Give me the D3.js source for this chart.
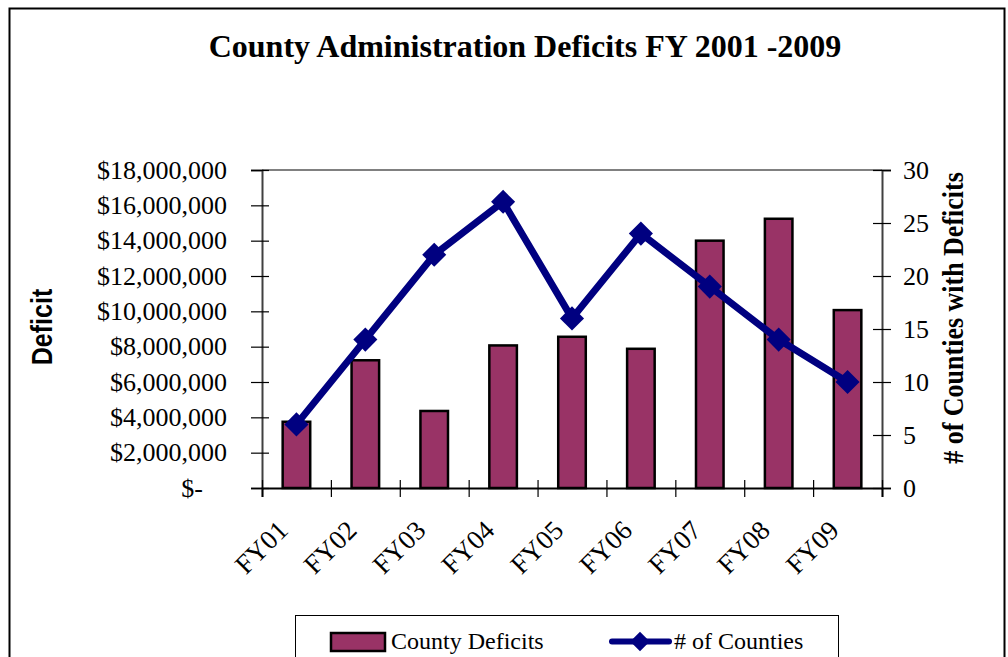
<!DOCTYPE html>
<html>
<head>
<meta charset="utf-8">
<script src="https://cdn.jsdelivr.net/npm/d3@7"></script>
<style>
  html, body { margin: 0; padding: 0; background: #fff; }
  svg { display: block; }
  text { font-family: "Liberation Serif", "Times New Roman", serif; fill: #000; }
</style>
</head>
<body>
<svg id="chart" width="1008" height="657"></svg>
<script>
// Fiscal years and values
const categories = ["FY01", "FY02", "FY03", "FY04", "FY05", "FY06", "FY07", "FY08", "FY09"];
const deficits = [3750000, 7230000, 4360000, 8070000, 8560000, 7880000, 14000000, 15240000, 10070000];
const counties = [6, 14, 22, 27, 16, 24, 19, 14, 10];
const deficitTicks = [0, 2000000, 4000000, 6000000, 8000000, 10000000, 12000000, 14000000, 16000000, 18000000];
const countyTicks = [0, 5, 10, 15, 20, 25, 30];

const title = "County Administration Deficits FY 2001 -2009";
const leftTitle = "Deficit";
const rightTitle = "# of Counties with Deficits";
const legendLabels = ["County Deficits", "# of Counties"];

const barColor = "#993366";
const lineColor = "#000080";

const svg = d3.select("#chart");
const plot = { left: 262, right: 882, top: 170, bottom: 488 };

// outer frame
svg.append("rect")
  .attr("x", 9.5).attr("y", 8.5).attr("width", 995).attr("height", 720)
  .attr("fill", "#fff").attr("stroke", "#000").attr("stroke-width", 2);

// title
svg.append("text")
  .attr("x", 525).attr("y", 57)
  .attr("text-anchor", "middle")
  .style("font-size", "32px").style("font-weight", "bold")
  .text(title);

// scales
const x = d3.scaleBand().domain(categories).range([plot.left, plot.right])
  .paddingInner(0.6).paddingOuter(0.3);
const xEdge = d3.scaleLinear().domain([0, categories.length]).range([plot.left, plot.right]);
const yL = d3.scaleLinear().domain([0, 18000000]).range([plot.bottom, plot.top]);
const yR = d3.scaleLinear().domain([0, 30]).range([plot.bottom, plot.top]);

// plot area top edge
svg.append("line")
  .attr("x1", plot.left).attr("x2", plot.right)
  .attr("y1", plot.top).attr("y2", plot.top)
  .attr("stroke", "#808080").attr("stroke-width", 2);

// bars
svg.append("g").selectAll("rect").data(deficits).join("rect")
  .attr("x", (d, i) => x(categories[i]))
  .attr("y", d => yL(d))
  .attr("width", x.bandwidth())
  .attr("height", d => yL(0) - yL(d))
  .attr("fill", barColor)
  .attr("stroke", "#000").attr("stroke-width", 2.5);

// left axis
const fmtMoney = d => d === 0 ? "$-" : "$" + d3.format(",")(d);
const gL = svg.append("g").attr("transform", `translate(${plot.left},0)`)
  .call(d3.axisLeft(yL).tickValues(deficitTicks).tickFormat(fmtMoney).tickSize(11).tickPadding(24));
gL.select(".domain").attr("stroke", "#404040").attr("stroke-width", 2);
gL.selectAll(".tick line").attr("x1", 7).attr("stroke", "#000").attr("stroke-width", 1.2);
gL.selectAll(".tick text")
  .attr("x", d => d === 0 ? -59 : -35)
  .style("font-size", "26px");

// right axis
const gR = svg.append("g").attr("transform", `translate(${plot.right},0)`)
  .call(d3.axisRight(yR).tickValues(countyTicks).tickSize(9).tickPadding(12));
gR.select(".domain").attr("stroke", "#404040").attr("stroke-width", 2);
gR.selectAll(".tick line").attr("x1", -9).attr("stroke", "#000").attr("stroke-width", 1.2);
gR.selectAll(".tick text").attr("x", 21).style("font-size", "26px");

// bottom axis with category separators
const gB = svg.append("g").attr("transform", `translate(0,${plot.bottom})`)
  .call(d3.axisBottom(xEdge).tickValues(d3.range(0, categories.length + 1)).tickFormat("").tickSize(9));
gB.select(".domain").attr("stroke", "#000").attr("stroke-width", 2);
gB.selectAll(".tick line").attr("y1", -8).attr("stroke", "#000").attr("stroke-width", 1.2);

// rotated category labels
svg.append("g").selectAll("text").data(categories).join("text")
  .attr("transform", d => `translate(${x(d) + x.bandwidth() / 2 - 7},532) rotate(-45)`)
  .attr("text-anchor", "end")
  .style("font-size", "27px")
  .text(d => d);

// counties line
const line = d3.line()
  .x((d, i) => x(categories[i]) + x.bandwidth() / 2)
  .y(d => yR(d));
svg.append("path").datum(counties)
  .attr("d", line)
  .attr("fill", "none").attr("stroke", lineColor)
  .attr("stroke-width", 7).attr("stroke-linejoin", "round");

const diamond = d3.symbol().type(d3.symbolSquare).size(290);
svg.append("g").selectAll("path").data(counties).join("path")
  .attr("d", diamond)
  .attr("transform", (d, i) => `translate(${x(categories[i]) + x.bandwidth() / 2},${yR(d)}) rotate(45)`)
  .attr("fill", lineColor);

// axis titles
svg.append("text")
  .attr("transform", "translate(52,327) rotate(-90) scale(1,1.15)")
  .attr("text-anchor", "middle")
  .style("font-family", "Liberation Sans, Arial, sans-serif")
  .style("font-size", "25px").style("font-weight", "bold")
  .text(leftTitle);

svg.append("text")
  .attr("transform", "translate(963,318) rotate(-90) scale(1,1.15)")
  .attr("text-anchor", "middle")
  .style("font-size", "26px").style("font-weight", "bold")
  .text(rightTitle);

// legend
const lg = svg.append("g");
lg.append("rect")
  .attr("x", 295.5).attr("y", 615.5).attr("width", 543).attr("height", 80)
  .attr("fill", "#fff").attr("stroke", "#000").attr("stroke-width", 1);
lg.append("rect")
  .attr("x", 331).attr("y", 633).attr("width", 54).attr("height", 18)
  .attr("fill", barColor).attr("stroke", "#000").attr("stroke-width", 2.5);
lg.append("text")
  .attr("x", 391).attr("y", 649)
  .style("font-size", "24px")
  .text(legendLabels[0]);
lg.append("line")
  .attr("x1", 612).attr("x2", 669).attr("y1", 641.5).attr("y2", 641.5)
  .attr("stroke", lineColor).attr("stroke-width", 6).attr("stroke-linecap", "round");
lg.append("path")
  .attr("d", d3.symbol().type(d3.symbolSquare).size(190)())
  .attr("transform", "translate(640,641.5) rotate(45)")
  .attr("fill", lineColor);
lg.append("text")
  .attr("x", 674).attr("y", 649)
  .style("font-size", "24px")
  .text(legendLabels[1]);
</script>
</body>
</html>
